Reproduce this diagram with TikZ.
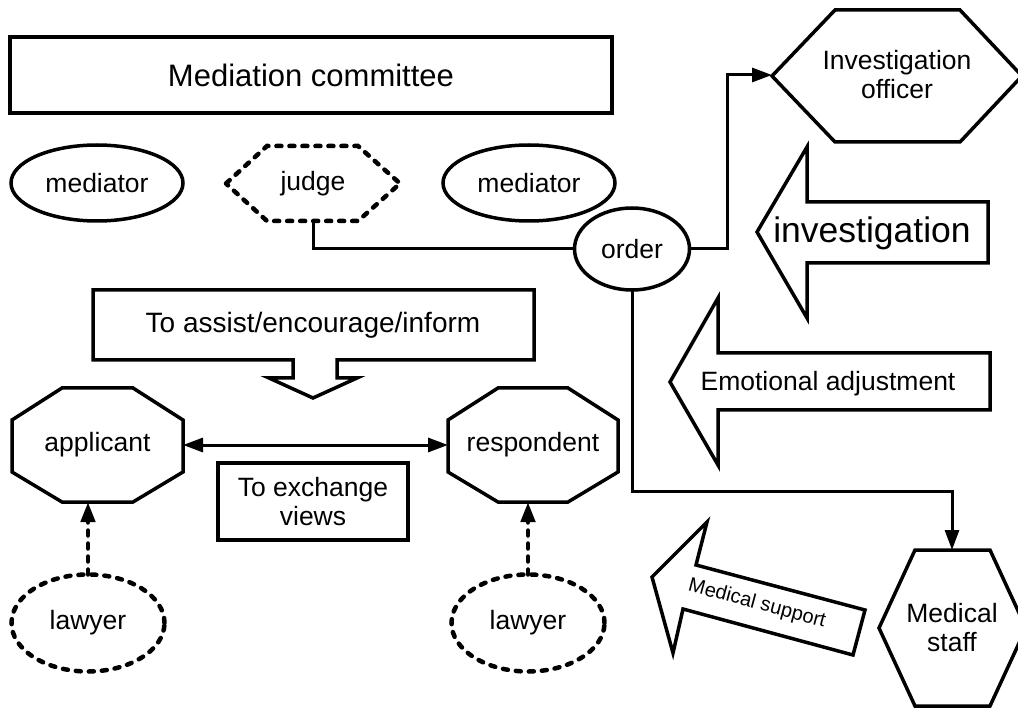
\documentclass[tikz,border=0pt]{standalone}
\usepackage{fontspec}
\setmainfont{Liberation Sans}
\usetikzlibrary{shapes.geometric,arrows.meta,calc}
\begin{document}
\begin{tikzpicture}[x=1pt,y=-1pt,
  every node/.style={inner sep=0pt,outer sep=0pt,font=\fontsize{26.5}{29}\selectfont,align=center},
  shapeline/.style={line width=3.5pt,line join=miter},
  dashline/.style={line width=4.5pt,line cap=round,dash pattern=on 5pt off 8pt},
  conn/.style={line width=3pt},
  tip/.style={-{Triangle[length=20pt,width=14pt]}},
  twotip/.style={{Triangle[length=20pt,width=14pt]}-{Triangle[length=20pt,width=14pt]}},
  oval/.style={ellipse,draw,line width=3.5pt},
]
\useasboundingbox (0,0) rectangle (1018,711);

% Mediation committee
\node[draw,line width=3.5pt,minimum width=602pt,minimum height=76pt,font=\fontsize{31}{36}\selectfont] (mc) at (311,75) {Mediation committee};

% mediators and judge
\node[oval,minimum width=172pt,minimum height=76pt] (med1) at (97,183) {mediator};
\node[oval,minimum width=172pt,minimum height=76pt] (med2) at (529,183) {mediator};
\node[minimum width=174pt,minimum height=75pt] (judge) at (313,183.5) {judge};
\draw[dashline] (226,183.5) -- (267,146) -- (358,146) -- (400,183.5) -- (358,221) -- (267,221) -- cycle;

% order
\node[oval,minimum width=115pt,minimum height=82pt] (order) at (632,249) {order};
\draw[conn] (judge.south) |- (order.west);

% Investigation officer
\node[minimum width=250pt,minimum height=132pt] (officer) at (897,75) {Investigation\\officer};
\draw[shapeline] (772,76) -- (835,10) -- (960,10) -- (1022,76) -- (960,142) -- (835,142) -- cycle;
\draw[conn,tip] (order.east) -- ++(38,0) |- (officer.west);

% investigation arrow
\draw[shapeline] (757,232) -- (807,147) -- (807,202) -- (988,202) -- (988,263) -- (807,263) -- (807,318) -- cycle;
\node[font=\fontsize{35.5}{40}\selectfont] (inv) at (872,233) {investigation};

% Emotional adjustment arrow
\draw[shapeline] (670,382) -- (718,298) -- (718,353) -- (990,353) -- (990,410) -- (718,410) -- (718,465) -- cycle;
\node (emo) at (828,384) {Emotional adjustment};

% Medical support arrow
\draw[shapeline] (652,577) -- (707,522) -- (696,565) -- (865,610) -- (853,655) -- (683,609) -- (673,653) -- cycle;
\node[rotate=-15,font=\fontsize{20}{24}\selectfont] (msup) at (757,604) {Medical support};

% Medical staff
\node[minimum width=146pt,minimum height=156pt] (staff) at (952,628) {Medical\\staff};
\draw[shapeline] (879,628) -- (915,550) -- (990,550) -- (1026,628) -- (990,706) -- (915,706) -- cycle;
\coordinate (bend) at (952,491);
\draw[conn,tip] (order.south) |- (bend) -- (staff.north);

% To assist box with down arrow
\node[font=\fontsize{28}{32}\selectfont] (assist) at (313,325) {To assist/encourage/inform};
\draw[shapeline] (93,290) -- (534,290) -- (534,360) -- (337,360) -- (337,378) -- (357,378) -- (313,398) -- (269,378) -- (293,378) -- (293,360) -- (93,360) -- cycle;

% applicant and respondent
\node[minimum width=171pt,minimum height=114pt] (app) at (97.5,445) {applicant};
\draw[shapeline] (62,388) -- (133,388) -- (183,420) -- (183,472) -- (133,502) -- (62,502) -- (12,472) -- (12,420) -- cycle;
\node[minimum width=170pt,minimum height=114pt] (resp) at (533,445) {respondent};
\draw[shapeline] (498,388) -- (568,388) -- (618,420) -- (618,472) -- (568,502) -- (498,502) -- (448,472) -- (448,420) -- cycle;
\draw[conn,twotip] (app.east) -- (resp.west);

% To exchange views
\node[draw,line width=3.5pt,minimum width=190pt,minimum height=77pt] (ex) at (313,501.5) {To exchange\\views};

% lawyers
\node[ellipse,draw,dashline,minimum width=153pt,minimum height=97pt] (law1) at (88,623) {lawyer};
\node[ellipse,draw,dashline,minimum width=153pt,minimum height=97pt] (law2) at (528,623) {lawyer};
\draw[dashline,tip] (law1.north) -- (law1.north |- app.south);
\draw[dashline,tip] (law2.north) -- (law2.north |- resp.south);
\end{tikzpicture}
\end{document}
